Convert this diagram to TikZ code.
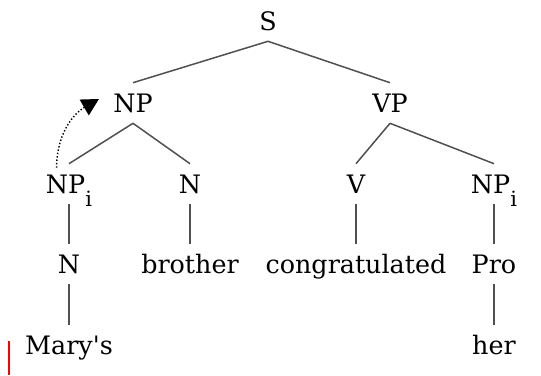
\documentclass[tikz,border=0pt]{standalone}
\usepackage{fontspec}
\setmainfont{DejaVu Serif}
\usepackage{tikz}
\usetikzlibrary{arrows.meta}
\definecolor{branch}{HTML}{505050}
\definecolor{caret}{HTML}{FF0000}
\newcommand{\ix}[1]{#1\raisebox{-6.5pt}{\fontsize{10.5}{12}\selectfont i}}
\tikzset{
  lbl/.style={font=\fontsize{12.7}{15}\selectfont,inner xsep=0pt,inner ysep=5.3pt,text height=9.3pt,text depth=0pt},
  br/.style={branch,line width=.75pt},
  mv/.style={-{Triangle[length=8.5pt,width=9pt]},line width=.7pt,dash pattern=on .7pt off 1pt},
}

\begin{document}
\begin{tikzpicture}[x=.5pt,y=-.5pt]
\useasboundingbox (0,0) rectangle (541,375);
\node[lbl] (s) at (268,21) {S};
\node[lbl] (np) at (133,103) {NP};
\node[lbl] (vp) at (390,103) {VP};
\node[lbl] (npi) at (69,184) {\ix{NP}};
\node[lbl] (n) at (190,184) {N};
\node[lbl] (v) at (356,184) {V};
\node[lbl] (npj) at (494,184) {\ix{NP}};
\node[lbl] (nn) at (69,264) {N};
\node[lbl] (bro) at (190,264) {brother};
\node[lbl] (cong) at (356,264) {congratulated};
\node[lbl] (pro) at (494,264) {Pro};
\node[lbl] (mary) at (69,345) {Mary\textquotesingle s};
\node[lbl] (her) at (494,345) {her};
\draw[br] (s.south) -- (np.north);
\draw[br] (s.south) -- (vp.north);
\draw[br] (np.south) -- (npi.north);
\draw[br] (np.south) -- (n.north);
\draw[br] (vp.south) -- (v.north);
\draw[br] (vp.south) -- (npj.north);
\draw[br] (npi.south) -- (nn.north);
\draw[br] (n.south) -- (bro.north);
\draw[br] (v.south) -- (cong.north);
\draw[br] (npj.south) -- (pro.north);
\draw[br] (nn.south) -- (mary.north);
\draw[br] (pro.south) -- (her.north);
% movement of the possessor
\draw[mv] ([xshift=5.5pt,yshift=-2pt]npi.north west) to[out=90,in=210] ([xshift=-7pt,yshift=2pt]np.west);
\draw[caret,line width=1pt] (8.5,341) -- (8.5,375);
\end{tikzpicture}
\end{document}
